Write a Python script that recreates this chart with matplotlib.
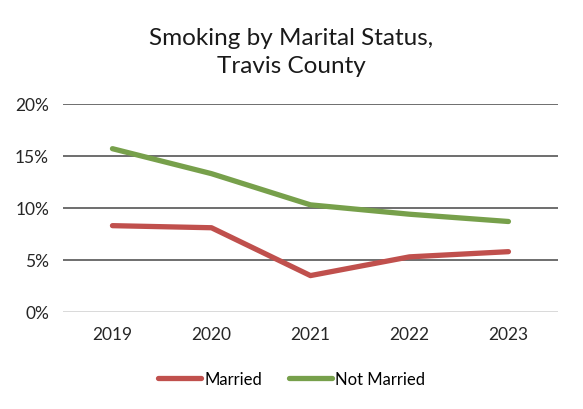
import matplotlib.pyplot as plt
from matplotlib.ticker import FuncFormatter

years = ['2019', '2020', '2021', '2022', '2023']
married = [8.3, 8.1, 3.5, 5.3, 5.8]
not_married = [15.7, 13.3, 10.3, 9.4, 8.7]

plt.rcParams['font.family'] = ['Lato', 'DejaVu Sans']

fig = plt.figure(figsize=(5.83, 4.10), dpi=100)
ax = fig.add_axes([0.108, 0.2366, 0.849, 0.5074])

x = range(len(years))
ax.plot(x, married, color='#C0504D', lw=3.8, solid_capstyle='round', label='Married')
ax.plot(x, not_married, color='#77A04B', lw=3.8, solid_capstyle='round', label='Not Married')

ax.set_xlim(-0.5, len(years) - 0.5)
ax.set_ylim(0, 20)
ax.set_yticks([0, 5, 10, 15, 20])
ax.yaxis.set_major_formatter(FuncFormatter(lambda v, p: f'{v:.0f}%'))
ax.set_xticks(list(x))
ax.set_xticklabels(years)
for v in [5, 10, 15, 20]:
    ax.axhline(v, color='#6E6E6E', lw=1.4, zorder=0)
ax.axhline(0, color='#D9D9D9', lw=1.4, zorder=0)
for s in ax.spines.values():
    s.set_visible(False)
ax.tick_params(length=0, labelsize=12.5, colors='#262626', pad=10)
ax.tick_params(axis='y', pad=10)

fig.text(0.5, 0.872, 'Smoking by Marital Status,\nTravis County', ha='center', va='center',
         fontsize=17.5, color='#1a1a1a', linespacing=1.4)

fig.legend(loc='center', bbox_to_anchor=(0.5, 0.073), ncol=2, frameon=False,
           fontsize=12, handlelength=2.6, handletextpad=0.2, columnspacing=1.6)

fig.savefig('out.png', dpi=100)
